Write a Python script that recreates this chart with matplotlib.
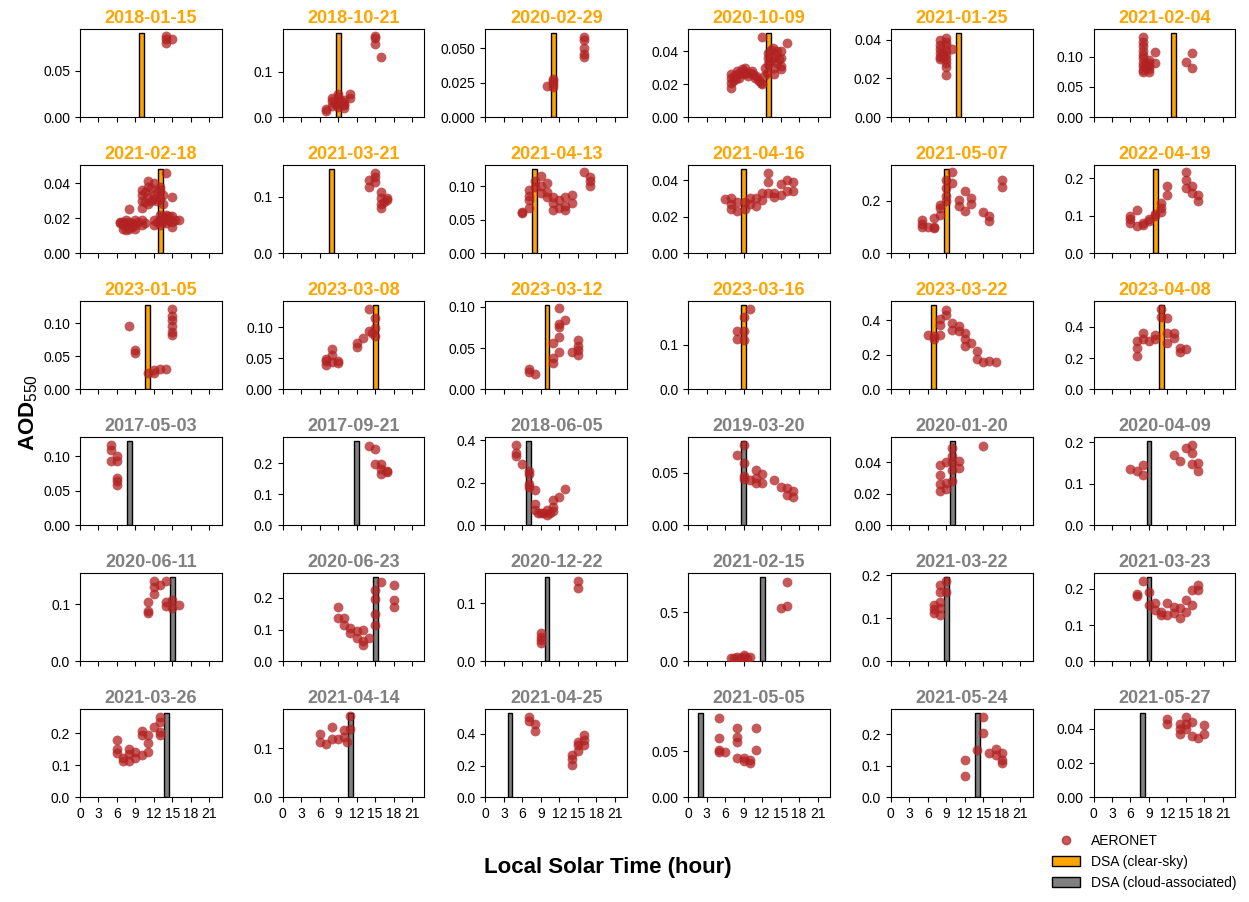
import matplotlib
matplotlib.use('Agg')
import matplotlib.pyplot as plt
from matplotlib import ticker
from matplotlib.lines import Line2D
from matplotlib.patches import Patch

plt.rcParams['font.family'] = ['Liberation Sans', 'DejaVu Sans']
plt.rcParams['mathtext.fontset'] = 'custom'
plt.rcParams['mathtext.rm'] = 'Liberation Sans'
plt.rcParams['mathtext.default'] = 'rm'

# panel dates, DSA sky type (True = clear-sky), DSA time and AOD
dates = ['2018-01-15', '2018-10-21', '2020-02-29', '2020-10-09', '2021-01-25', '2021-02-04',
         '2021-02-18', '2021-03-21', '2021-04-13', '2021-04-16', '2021-05-07', '2022-04-19',
         '2023-01-05', '2023-03-08', '2023-03-12', '2023-03-16', '2023-03-22', '2023-04-08',
         '2017-05-03', '2017-09-21', '2018-06-05', '2019-03-20', '2020-01-20', '2020-04-09',
         '2020-06-11', '2020-06-23', '2020-12-22', '2021-02-15', '2021-03-22', '2021-03-23',
         '2021-03-26', '2021-04-14', '2021-04-25', '2021-05-05', '2021-05-24', '2021-05-27']
clear_sky = [True] * 18 + [False] * 18
dsa_hour = [10, 9, 11, 13, 11, 13,
            13, 8, 8, 9, 9, 10,
            11, 15, 10, 9, 7, 11,
            8, 12, 7, 9, 10, 9,
            15, 15, 10, 12, 9, 9,
            14, 11, 4, 2, 14, 8]
dsa_aod = [0.0905, 0.185, 0.061, 0.051, 0.0434, 0.139,
           0.048, 0.149, 0.126, 0.046, 0.322, 0.224,
           0.127, 0.136, 0.102, 0.190, 0.489, 0.54,
           0.122, 0.272, 0.395, 0.080, 0.0533, 0.203,
           0.147, 0.265, 0.145, 0.854, 0.196, 0.232,
           0.262, 0.172, 0.529, 0.091, 0.267, 0.049]

# AERONET observations per panel: (local solar hour, AOD550)
aeronet = [
    [(14, 0.087), (14, 0.084), (14, 0.080), (15, 0.084)],
    [(7, 0.013), (7, 0.017), (8, 0.025), (8, 0.035), (8, 0.042), (8.5, 0.030), (9, 0.050), (9, 0.045),
     (9, 0.030), (9, 0.022), (9.5, 0.035), (10, 0.038), (10, 0.027), (10, 0.020), (10, 0.030),
     (11, 0.052), (11, 0.042), (15, 0.178), (15, 0.175), (15, 0.160), (16, 0.133)],
    [(10, 0.0225), (11, 0.028), (11, 0.026), (11, 0.024), (11, 0.022), (16, 0.058), (16, 0.056),
     (16, 0.050), (16, 0.046), (16, 0.044)],
    [(7.0, 0.018), (7.0, 0.021), (7.0, 0.024), (7.0, 0.026), (7.3, 0.022), (7.5, 0.025), (7.8, 0.023),
     (8.0, 0.026), (8.0, 0.028), (8.3, 0.024), (8.5, 0.027), (8.8, 0.029), (9.0, 0.026), (9.0, 0.028),
     (9.3, 0.030), (9.5, 0.027), (9.8, 0.025), (10.0, 0.027), (10.3, 0.028), (10.5, 0.026),
     (10.8, 0.024), (11.0, 0.025), (11.3, 0.023), (11.5, 0.022), (11.8, 0.021), (12.0, 0.020),
     (12.0, 0.0485), (12.3, 0.025), (12.5, 0.030), (12.8, 0.027), (13.0, 0.032), (13.0, 0.036),
     (13.0, 0.039), (13.3, 0.034), (13.5, 0.041), (13.8, 0.042), (14.0, 0.036), (14.0, 0.030),
     (14.0, 0.026), (14.3, 0.038), (14.5, 0.040), (14.5, 0.033), (14.8, 0.035), (15.0, 0.036),
     (15.0, 0.031), (15.0, 0.029), (15.0, 0.040), (16.0, 0.045)],
    [(8, 0.040), (8, 0.037), (8, 0.035), (8, 0.033), (8, 0.031), (8, 0.030), (8.5, 0.033), (8.5, 0.031),
     (9, 0.041), (9, 0.039), (9, 0.037), (9, 0.034), (9, 0.032), (9, 0.030), (9, 0.028), (9, 0.026),
     (9, 0.022), (10, 0.035)],
    [(8, 0.132), (8, 0.125), (8, 0.118), (8, 0.110), (8, 0.103), (8, 0.097), (8, 0.090), (8, 0.085),
     (8, 0.078), (8, 0.074), (8.5, 0.088), (8.5, 0.082), (9, 0.095), (9, 0.090), (9, 0.085),
     (9, 0.080), (9, 0.075), (10, 0.107), (10, 0.089), (15, 0.091), (16, 0.106), (16, 0.081)],
    [(6.5, 0.017), (6.5, 0.018), (7, 0.016), (7, 0.018), (7, 0.014), (7.5, 0.017), (7.5, 0.013),
     (7.5, 0.019), (8, 0.016), (8, 0.014), (8, 0.025), (8, 0.018), (8.5, 0.015), (8.5, 0.017),
     (9, 0.016), (9, 0.019), (9, 0.014), (9.5, 0.018), (10, 0.016), (10, 0.019), (10.5, 0.017),
     (10, 0.036), (10, 0.033), (10, 0.030), (10, 0.026), (10.5, 0.035), (10.5, 0.029), (11, 0.041),
     (11, 0.038), (11, 0.032), (11, 0.028), (11.5, 0.037), (11.5, 0.030), (12, 0.040), (12, 0.033),
     (12, 0.031), (12.5, 0.035), (12.5, 0.030), (13, 0.038), (13, 0.036), (13, 0.031), (13.5, 0.033),
     (13.5, 0.028), (14, 0.046), (15, 0.032), (12, 0.019), (12, 0.016), (12.5, 0.018), (13, 0.022),
     (13, 0.019), (13, 0.016), (13.5, 0.021), (13.5, 0.018), (14, 0.022), (14, 0.020), (14, 0.017),
     (14.5, 0.021), (14.5, 0.019), (15, 0.021), (15, 0.018), (15, 0.015), (15.5, 0.019), (16, 0.019)],
    [(14, 0.129), (14, 0.117), (15, 0.142), (15, 0.135), (15, 0.126), (16, 0.109), (16, 0.097),
     (16, 0.088), (16, 0.080), (17, 0.097), (17, 0.094), (16.5, 0.091)],
    [(6, 0.060), (6, 0.062), (7, 0.079), (7, 0.085), (7, 0.094), (7, 0.067), (8, 0.108), (8, 0.099),
     (9, 0.116), (9, 0.101), (9, 0.090), (10, 0.105), (10, 0.092), (10, 0.084), (11, 0.084),
     (11, 0.075), (11, 0.065), (12, 0.080), (12, 0.067), (13, 0.084), (13, 0.070), (13, 0.065),
     (14, 0.087), (14, 0.075), (16, 0.121), (17, 0.114), (17, 0.108), (17, 0.101)],
    [(6, 0.0295), (7, 0.030), (7, 0.027), (7, 0.024), (8, 0.028), (8, 0.023), (9.2, 0.028),
     (9.2, 0.024), (10, 0.030), (10, 0.027), (11, 0.030), (11, 0.026), (12, 0.033), (12, 0.029),
     (13, 0.0437), (13, 0.039), (13, 0.033), (14, 0.033), (14, 0.031), (15, 0.038), (15, 0.032),
     (16, 0.040), (16, 0.034), (17, 0.039), (17, 0.034)],
    [(5, 0.128), (5, 0.110), (5, 0.100), (6, 0.100), (7, 0.100), (7, 0.095), (7, 0.135), (8, 0.185),
     (8, 0.148), (8, 0.175), (9, 0.280), (9, 0.250), (9, 0.220), (9, 0.200), (10, 0.310), (10, 0.270),
     (11, 0.204), (11, 0.180), (12, 0.240), (12, 0.160), (13, 0.210), (13, 0.190), (15, 0.156),
     (16, 0.141), (16, 0.122), (18, 0.279), (18, 0.254)],
    [(6, 0.100), (6, 0.080), (6, 0.090), (7, 0.115), (7, 0.072), (8, 0.080), (8, 0.075), (9, 0.090),
     (9, 0.085), (10, 0.105), (10, 0.098), (11, 0.133), (11, 0.110), (11, 0.120), (12, 0.180),
     (12, 0.155), (15, 0.215), (15, 0.195), (15, 0.175), (16, 0.180), (16, 0.160), (17, 0.155),
     (17, 0.140)],
    [(8, 0.095), (9, 0.059), (9, 0.055), (11, 0.025), (12, 0.029), (12, 0.025), (13, 0.030),
     (14, 0.030), (15, 0.121), (15, 0.110), (15, 0.105), (15, 0.095), (15, 0.087), (15, 0.082)],
    [(7, 0.049), (7, 0.040), (7, 0.045), (8, 0.065), (8, 0.055), (8, 0.044), (9, 0.046), (9, 0.042),
     (12, 0.075), (12, 0.068), (13, 0.083), (14, 0.129), (14, 0.094), (15, 0.116), (15, 0.099),
     (15, 0.086), (14.5, 0.091)],
    [(7, 0.024), (7, 0.021), (8, 0.019), (11, 0.038), (11, 0.032), (11, 0.056), (12, 0.098),
     (12, 0.079), (12, 0.075), (12, 0.063), (12, 0.045), (13, 0.084), (14, 0.045), (15, 0.060),
     (15, 0.052), (15, 0.048), (15, 0.041)],
    [(8, 0.132), (8, 0.113), (9, 0.164), (9, 0.131), (9, 0.112), (10, 0.181)],
    [(6, 0.315), (7, 0.290), (7, 0.310), (8, 0.318), (8, 0.410), (8, 0.375), (9, 0.460), (9, 0.430),
     (10, 0.385), (10, 0.347), (11, 0.366), (11, 0.337), (12, 0.328), (12, 0.290), (12, 0.252),
     (13, 0.271), (14, 0.224), (14, 0.176), (15, 0.157), (16, 0.167), (17, 0.157)],
    [(7, 0.216), (7, 0.310), (7, 0.268), (8, 0.360), (8, 0.320), (9, 0.310), (10, 0.350), (10, 0.320),
     (11, 0.515), (11, 0.467), (12, 0.456), (12, 0.360), (12, 0.300), (13, 0.360), (13, 0.330),
     (14, 0.268), (14, 0.237), (15, 0.258)],
    [(5, 0.116), (5, 0.109), (5, 0.093), (6, 0.100), (6, 0.093), (6, 0.069), (6, 0.058), (6, 0.064)],
    [(14, 0.258), (15, 0.247), (15, 0.199), (16, 0.199), (16, 0.165), (16, 0.183), (17, 0.176),
     (17, 0.171)],
    [(5, 0.377), (5, 0.340), (5, 0.325), (6, 0.286), (7, 0.255), (7, 0.240), (7, 0.180), (7, 0.195),
     (8, 0.164), (8, 0.100), (8, 0.070), (8.5, 0.060), (9, 0.058), (9.5, 0.060), (10, 0.070),
     (10, 0.050), (10.5, 0.060), (11, 0.085), (11, 0.065), (11, 0.118), (12, 0.133), (13, 0.172)],
    [(8, 0.067), (9, 0.076), (9, 0.059), (9, 0.047), (9, 0.044), (10, 0.043), (11, 0.053), (11, 0.045),
     (11, 0.040), (12, 0.049), (12, 0.040), (14, 0.043), (15, 0.036), (16, 0.035), (16, 0.029),
     (17, 0.033), (17, 0.027)],
    [(8, 0.038), (8, 0.032), (8, 0.026), (8, 0.022), (9, 0.040), (9, 0.027), (9, 0.023), (10, 0.049),
     (10, 0.044), (10, 0.040), (10, 0.035), (10, 0.028), (11, 0.041), (11, 0.036), (15, 0.050)],
    [(6, 0.137), (7, 0.131), (8, 0.146), (8, 0.121), (13, 0.170), (14, 0.155), (15, 0.186), (16, 0.194),
     (16, 0.175), (16, 0.147), (17, 0.150), (17, 0.131)],
    [(11, 0.104), (11, 0.088), (11, 0.085), (12, 0.140), (12, 0.130), (12, 0.117), (13, 0.133),
     (14, 0.140), (14, 0.104), (14, 0.096), (15, 0.107), (15, 0.093), (16, 0.099)],
    [(9, 0.172), (9, 0.136), (10, 0.136), (10, 0.116), (11, 0.106), (11, 0.090), (12, 0.095),
     (12, 0.075), (13, 0.100), (13, 0.065), (13, 0.050), (14, 0.075), (15, 0.224), (15, 0.196),
     (15, 0.150), (15, 0.113), (16, 0.251), (18, 0.239), (18, 0.193), (18, 0.172)],
    [(9, 0.048), (9, 0.042), (9, 0.036), (9, 0.032), (15, 0.138), (15, 0.126)],
    [(7, 0.036), (7.5, 0.030), (8, 0.043), (8.5, 0.035), (9, 0.060), (9, 0.040), (9.5, 0.032),
     (10, 0.043), (15, 0.540), (16, 0.810), (16, 0.566)],
    [(7, 0.131), (7, 0.113), (7, 0.122), (8, 0.177), (8, 0.162), (8, 0.139), (8, 0.124), (8, 0.109),
     (9, 0.186), (9, 0.162)],
    [(7, 0.187), (7, 0.181), (8, 0.221), (9, 0.192), (9, 0.156), (10, 0.160), (10, 0.142), (11, 0.137),
     (11, 0.128), (12, 0.160), (12, 0.129), (13, 0.151), (13, 0.133), (14, 0.147), (14, 0.120),
     (15, 0.169), (15, 0.137), (16, 0.196), (16, 0.156), (17, 0.210), (17, 0.196)],
    [(6, 0.178), (6, 0.152), (6, 0.137), (7, 0.122), (7, 0.112), (8, 0.152), (8, 0.112), (8, 0.135),
     (9, 0.142), (9, 0.122), (10, 0.132), (10, 0.208), (10, 0.193), (11, 0.193), (11, 0.168),
     (11, 0.142), (12, 0.218), (13, 0.249), (13, 0.234), (13, 0.193), (13, 0.203)],
    [(6, 0.130), (6, 0.113), (7, 0.110), (8, 0.143), (8, 0.120), (9, 0.120), (10, 0.137), (10, 0.123),
     (11, 0.167), (11, 0.140), (10.5, 0.113)],
    [(7, 0.508), (7, 0.482), (8, 0.460), (8, 0.416), (14, 0.267), (14, 0.205), (14, 0.240), (15, 0.349),
     (15, 0.290), (15, 0.330), (16, 0.390), (16, 0.330), (16, 0.360)],
    [(5, 0.086), (5, 0.064), (5, 0.051), (5, 0.049), (6, 0.0486), (8, 0.075), (8, 0.065), (8, 0.060),
     (8, 0.043), (9, 0.043), (9, 0.039), (10, 0.040), (10, 0.037), (11, 0.075), (11, 0.051)],
    [(12, 0.119), (12, 0.067), (14, 0.150), (15, 0.254), (15, 0.205), (16, 0.140), (17, 0.155),
     (17, 0.135), (18, 0.140), (18, 0.110), (18, 0.120)],
    [(12, 0.0457), (12, 0.0429), (14, 0.043), (14, 0.037), (14, 0.040), (15, 0.047), (15, 0.040),
     (15, 0.043), (16, 0.044), (16, 0.036), (17, 0.0347), (18, 0.042), (18, 0.037)],
]

_CLEAR = '#FFA500'
_CLOUD = '#808080'
_POINT = '#B22222'

fig, axes = plt.subplots(6, 6, figsize=(12.49, 9.02), dpi=100, sharex=True)
fig.subplots_adjust(left=0.064, right=0.989, top=0.968, bottom=0.116, wspace=0.43, hspace=0.54)

for i, ax in enumerate(axes.flat):
    color = _CLEAR if clear_sky[i] else _CLOUD
    hours = [p[0] for p in aeronet[i]]
    aods = [p[1] for p in aeronet[i]]
    ax.bar(dsa_hour[i], dsa_aod[i], width=0.8, color=color, edgecolor='black', linewidth=1, zorder=2)
    ax.scatter(hours, aods, s=50, color=_POINT, alpha=0.75, linewidths=0, zorder=3)
    ax.set_title(dates[i], color=color, fontweight='bold', fontsize=13, pad=4)
    ax.set_xlim(0, 23)
    ax.set_xticks(range(0, 24, 3))
    ax.yaxis.set_major_locator(ticker.MaxNLocator(nbins=3, steps=[1, 2, 2.5, 5, 10]))
    ax.tick_params(labelsize=10)

fig.text(0.487, 0.038, 'Local Solar Time (hour)', ha='center', va='center',
         fontsize=16, fontweight='bold')
fig.text(0.023, 0.543, 'AOD$_{550}$', ha='center', va='center', rotation=90,
         fontsize=16, fontweight='bold')

handles = [
    Line2D([], [], linestyle='none', marker='o', markersize=6, markerfacecolor=_POINT,
           markeredgecolor=_POINT, alpha=0.75, label='AERONET'),
    Patch(facecolor=_CLEAR, edgecolor='black', label='DSA (clear-sky)'),
    Patch(facecolor=_CLOUD, edgecolor='black', label='DSA (cloud-associated)'),
]
fig.legend(handles=handles, loc='lower right', bbox_to_anchor=(1.0, 0.0), frameon=False, fontsize=10)

fig.savefig('out.png', dpi=100)
